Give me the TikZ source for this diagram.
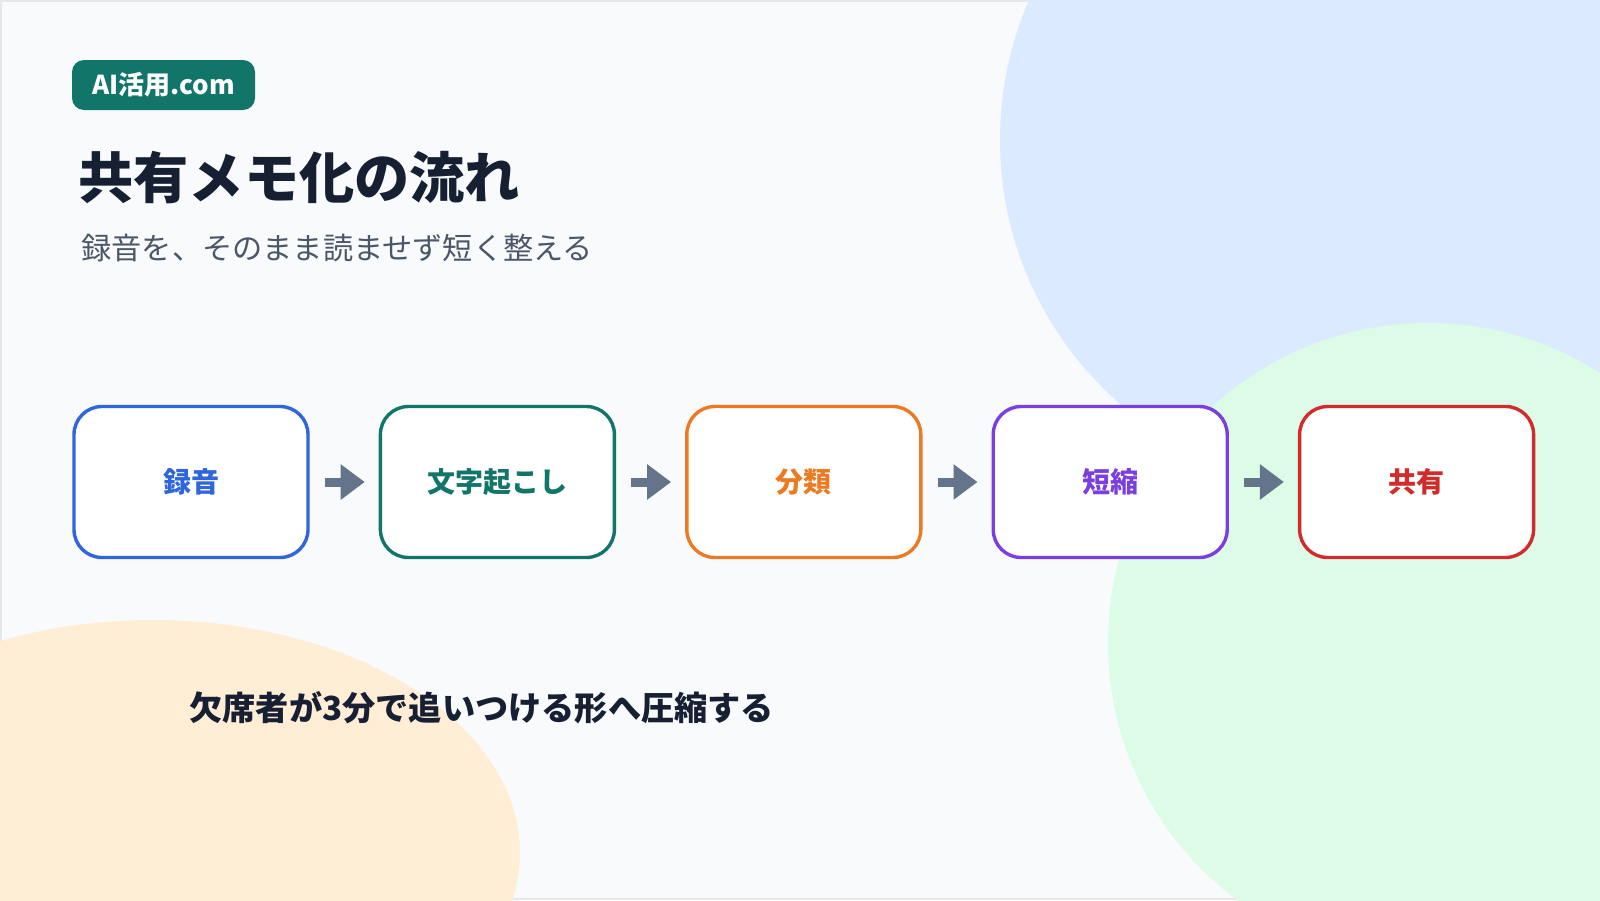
\documentclass[tikz,border=0pt]{standalone}
\usepackage{fontspec}
\setmainfont{Noto Sans CJK JP}
\usetikzlibrary{positioning,arrows.meta}

\definecolor{bggray}{HTML}{F8FAFC}
\definecolor{framegray}{HTML}{E5E7EB}
\definecolor{blobblue}{HTML}{DBEAFE}
\definecolor{blobgreen}{HTML}{DCFCE7}
\definecolor{bloborange}{HTML}{FFEDD5}
\definecolor{inkdark}{HTML}{172033}
\definecolor{inkgray}{HTML}{4B5768}
\definecolor{arrowgray}{HTML}{64748B}
\definecolor{recblue}{HTML}{2F66DD}
\definecolor{txtteal}{HTML}{12756A}
\definecolor{sortorange}{HTML}{EC7A22}
\definecolor{shortviolet}{HTML}{7B3FE0}
\definecolor{sharered}{HTML}{D02C2C}

\tikzset{
  stage/.style={draw=#1, text=#1, fill=white, line width=1.7pt,
    rounded corners=14pt, minimum width=117pt, minimum height=75.5pt,
    inner sep=0pt, font=\bfseries\fontsize{14}{16}\selectfont},
  flowarrow/.style={arrowgray, line width=4.5pt,
    -{Triangle[length=12pt,width=17pt]}, shorten <=7.5pt, shorten >=7pt},
  badge/.style={fill=txtteal, text=white, rounded corners=6pt,
    minimum width=91.5pt, minimum height=25pt, inner sep=0pt,
    font=\bfseries\fontsize{13}{15}\selectfont}
}

\begin{document}
\begin{tikzpicture}[x=0.5pt,y=-0.5pt]
  \useasboundingbox (0,0) rectangle (1600,900);

  % Background
  \fill[bggray] (0,0) rectangle (1600,900);
  \draw[framegray, line width=1pt] (1,1) rectangle (1599,899);
  \begin{scope}
    \clip (0,0) rectangle (1600,900);
    \fill[blobblue] (1350,140) circle[radius=175pt];
    \fill[blobgreen] (1428,643) circle[radius=160pt];
    \fill[bloborange] (153,853) ellipse[x radius=183.5pt, y radius=116.5pt];
  \end{scope}

  % Header
  \node[badge] (site) at (163.5,85) {AI活用.com};
  \node[anchor=west, inner sep=0pt, text=inkdark,
    font=\bfseries\fontsize{27.6}{30}\selectfont] (title) at (78,178) {共有メモ化の流れ};
  \node[anchor=west, inner sep=0pt, text=inkgray,
    font=\fontsize{15.1}{18}\selectfont] (subtitle) at (81,248) {録音を、そのまま読ませず短く整える};

  % Steps
  \node[stage=recblue] (rec) at (191,482) {録音};
  \node[stage=txtteal, right=34.5pt of rec] (txt) {文字起こし};
  \node[stage=sortorange, right=34.5pt of txt] (sort) {分類};
  \node[stage=shortviolet, right=34.5pt of sort] (short) {短縮};
  \node[stage=sharered, right=34.5pt of short] (share) {共有};

  \draw[flowarrow] (rec.east) -- (txt.west);
  \draw[flowarrow] (txt.east) -- (sort.west);
  \draw[flowarrow] (sort.east) -- (short.west);
  \draw[flowarrow] (short.east) -- (share.west);

  % Note
  \node[anchor=west, inner sep=0pt, text=inkdark,
    font=\bfseries\fontsize{16.6}{19}\selectfont] (note) at (189,708) {欠席者が3分で追いつける形へ圧縮する};
\end{tikzpicture}
\end{document}
